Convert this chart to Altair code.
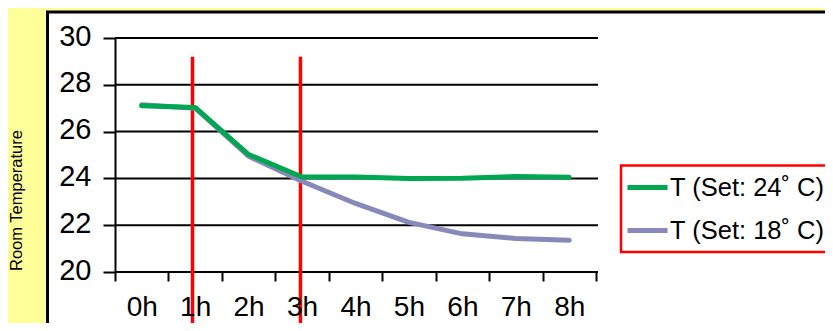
import json
import altair as alt
import pandas as pd

# ---- data ----
hours = [0, 1, 2, 3, 4, 5, 6, 7, 8]
hour_labels = ["0h", "1h", "2h", "3h", "4h", "5h", "6h", "7h", "8h"]
temp_set24 = [27.10, 27.03, 25.02, 24.06, 24.06, 24.00, 24.01, 24.08, 24.05]
temp_set18 = [27.15, 27.00, 24.95, 23.88, 22.93, 22.12, 21.63, 21.43, 21.36]
series_names = ["T (Set: 24˚ C)", "T (Set: 18˚ C)"]
series_colors = ["#00A651", "#8888BB"]
event_hours = [0.95, 2.97]
event_top = [29.2, 29.2]
y_ticks = [20, 22, 24, 26, 28, 30]

FONT = "Liberation Sans"
W, H = 481, 234

df = pd.DataFrame({
    "hour": hours * 2,
    "temp": temp_set24 + temp_set18,
    "series": [series_names[0]] * len(hours) + [series_names[1]] * len(hours),
})
grid_df = pd.DataFrame({"t": y_ticks})
ev_df = pd.DataFrame({"h": event_hours, "top": event_top})

xscale = alt.Scale(domain=[hours[0] - 0.5, hours[-1] + 0.5], nice=False, zero=False)
yscale = alt.Scale(domain=[y_ticks[0], y_ticks[-1]], nice=False, zero=False)

x_axis = alt.Axis(
    values=[h - 0.5 for h in hours] + [hours[-1] + 0.5],
    labelExpr=f"{json.dumps(hour_labels)}[round(datum.value + 0.5)] || ''",
    labelOffset=W / len(hours) / 2,
    labelFlush=False, labelOverlap=False,
    labelFont=FONT, labelFontSize=28, labelColor="black", labelPadding=12,
    tickSize=9, tickWidth=2, tickColor="black",
    domain=False, grid=False, title=None, zindex=1,
)
y_axis = alt.Axis(
    values=y_ticks,
    labelFont=FONT, labelFontSize=29, labelColor="black", labelPadding=12,
    labelOffset=-2,
    tickSize=12, tickWidth=2, tickColor="black",
    domain=True, domainColor="black", domainWidth=2,
    grid=False, zindex=1,
    title="Room Temperature", titleFont=FONT, titleFontSize=16.5,
    titleFontWeight="normal", titleColor="black",
    titleAngle=270, titleX=-99, titleY=162, titleAlign="center", titleBaseline="middle",
)

color = alt.Color(
    "series:N",
    scale=alt.Scale(domain=series_names, range=series_colors),
    legend=alt.Legend(
        title=None, orient="none", legendX=506, legendY=125,
        symbolType="stroke", symbolSize=1600, symbolStrokeWidth=5,
        symbolOffset=2, labelOffset=0,
        labelFont=FONT, labelFontSize=25.5, labelColor="black", labelLimit=0,
        padding=2, rowPadding=7,
    ),
)

panel = alt.Chart(alt.Data(values=[{}])).mark_rect(
    fill="white", stroke="black", strokeWidth=3
).encode(
    x=alt.value(-67.5), x2=alt.value(W + 400), y=alt.value(-26), y2=alt.value(H + 200)
)

legend_box = alt.Chart(alt.Data(values=[{}])).mark_rect(
    fill="white", stroke="red", strokeWidth=2.5
).encode(
    x=alt.value(506), x2=alt.value(W + 300), y=alt.value(127.5), y2=alt.value(214)
)

grid = alt.Chart(grid_df).mark_rule(color="black", strokeWidth=2).encode(
    y=alt.Y("t:Q", scale=yscale, axis=y_axis),
    x=alt.value(0), x2=alt.value(W + 2),
)

events = alt.Chart(ev_df).mark_rule(color="red", strokeWidth=3.5).encode(
    x=alt.X("h:Q", scale=xscale, axis=x_axis),
    y=alt.Y("top:Q", scale=yscale, axis=y_axis),
    y2=alt.value(H + 100),
)

def line_layer(name):
    return alt.Chart(df).transform_filter(
        alt.datum.series == name
    ).mark_line(strokeWidth=5, interpolate="linear", strokeCap="round", strokeJoin="round").encode(
        x=alt.X("hour:Q", scale=xscale, axis=x_axis),
        y=alt.Y("temp:Q", scale=yscale, axis=y_axis),
        color=color,
    )

chart = alt.layer(
    panel, grid, events, line_layer(series_names[1]), line_layer(series_names[0]), legend_box
).properties(
    width=W, height=H,
    autosize=alt.AutoSizeParams(type="none"),
    padding={"left": 107, "top": 30, "right": 229, "bottom": 51},
    background="#FFFF99",
).configure_view(stroke=None)

chart.save("out.html", embed_options={"renderer": "svg", "actions": False})
